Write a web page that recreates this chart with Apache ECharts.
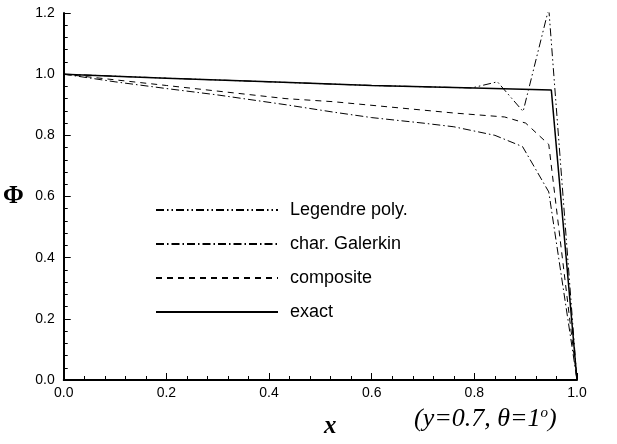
<!DOCTYPE html>
<html>
<head>
<meta charset="utf-8">
<script src="https://cdn.jsdelivr.net/npm/echarts@6/dist/echarts.min.js"></script>
<style>
  html, body { margin: 0; padding: 0; background: #fff; }
  #main { width: 617px; height: 444px; }
</style>
</head>
<body>
<div id="main"></div>
<script>
// 数据 (x, Φ) 读自原图
var legendreX = [0, 0.2, 0.4, 0.6, 0.795, 0.845, 0.895, 0.945, 1.0];
var legendreY = [1.0, 0.987, 0.975, 0.963, 0.955, 0.975, 0.878, 1.215, 0.0];

var galerkinX = [0, 0.1, 0.2, 0.3, 0.433, 0.525, 0.6, 0.7, 0.76, 0.84, 0.894, 0.945, 1.0];
var galerkinY = [1.0, 0.975, 0.953, 0.932, 0.9, 0.876, 0.858, 0.84, 0.828, 0.80, 0.763, 0.615, 0.0];

var compositeX = [0, 0.2, 0.433, 0.525, 0.76, 0.859, 0.9, 0.945, 1.0];
var compositeY = [1.0, 0.963, 0.92, 0.91, 0.873, 0.86, 0.84, 0.77, 0.0];

var exactX = [0, 0.2, 0.4, 0.6, 0.8, 0.95, 1.0];
var exactY = [1.0, 0.987, 0.975, 0.963, 0.955, 0.948, 0.0];

var seriesNames = ['Legendre poly.', 'char. Galerkin', 'composite', 'exact'];

function pairs(xs, ys) {
    return xs.map(function (x, i) { return [x, ys[i]]; });
}

var myChart = echarts.init(document.getElementById('main'));

var axisText = { color: '#000', fontFamily: 'Liberation Sans', fontSize: 14 };

var option = {
    backgroundColor: '#fff',
    animation: false,
    grid: { left: 63, right: 40, top: 13, bottom: 61 },
    legend: {
        data: seriesNames,
        orient: 'vertical',
        left: 150,
        top: 196,
        itemWidth: 122,
        itemHeight: 14,
        itemGap: 16,
        itemStyle: { opacity: 0 },
        textStyle: { color: '#000', fontFamily: 'Liberation Sans', fontSize: 18, padding: [0, 0, 0, 7] },
        selectedMode: false
    },
    xAxis: {
        type: 'value',
        min: 0,
        max: 1,
        interval: 0.2,
        name: 'x',
        nameLocation: 'middle',
        nameGap: 34,
        nameTextStyle: { color: '#000', fontFamily: 'Liberation Serif', fontSize: 25, fontStyle: 'italic', fontWeight: 'bold', padding: [0, 0, 0, 20] },
        axisLine: { lineStyle: { color: '#000', width: 2 } },
        axisTick: { inside: true, length: 7, lineStyle: { color: '#000' } },
        minorTick: { show: true, splitNumber: 5, length: 4, lineStyle: { color: '#000' } },
        axisLabel: Object.assign({ formatter: function (v) { return v.toFixed(1); }, margin: 6 }, axisText),
        splitLine: { show: false }
    },
    yAxis: {
        type: 'value',
        min: 0,
        max: 1.2,
        interval: 0.2,
        name: 'Φ',
        nameLocation: 'middle',
        nameRotate: 0,
        nameGap: 40,
        nameMoveOverlap: false,
        nameTextStyle: { color: '#000', fontFamily: 'Liberation Serif', fontSize: 25, fontWeight: 'bold', padding: [8, 0, 0, 0] },
        axisLine: { lineStyle: { color: '#000', width: 2 } },
        axisTick: { inside: true, length: 7, lineStyle: { color: '#000' } },
        minorTick: { show: true, splitNumber: 5, length: 4, lineStyle: { color: '#000' } },
        axisLabel: Object.assign({ formatter: function (v) { return v.toFixed(1); }, margin: 9 }, axisText),
        splitLine: { show: false }
    },
    graphic: [{
        type: 'text',
        left: 414,
        top: 406,
        style: {
            text: '{a|(y=0.7, θ=1}{s|o}{a|)}',
            rich: {
                a: { fontFamily: 'Liberation Serif', fontSize: 26, fontStyle: 'italic', fill: '#000' },
                s: { fontFamily: 'Liberation Serif', fontSize: 15, fontStyle: 'italic', fill: '#000', verticalAlign: 'top', padding: [0, 0, 12, 0] }
            }
        }
    }],
    series: [
        {
            name: seriesNames[0],
            type: 'line',
            data: pairs(legendreX, legendreY),
            symbol: 'none',
            color: '#000',
            lineStyle: { color: '#000', width: 1, type: [8, 3, 1.5, 3, 1.5, 3] }
        },
        {
            name: seriesNames[1],
            type: 'line',
            data: pairs(galerkinX, galerkinY),
            symbol: 'none',
            color: '#000',
            lineStyle: { color: '#000', width: 1, type: [8, 3, 1.5, 3] }
        },
        {
            name: seriesNames[2],
            type: 'line',
            data: pairs(compositeX, compositeY),
            symbol: 'none',
            color: '#000',
            lineStyle: { color: '#000', width: 1, type: [6, 5] }
        },
        {
            name: seriesNames[3],
            type: 'line',
            data: pairs(exactX, exactY),
            symbol: 'none',
            color: '#000',
            lineStyle: { color: '#000', width: 1.5, type: 'solid' }
        }
    ]
};

myChart.setOption(option);
</script>
</body>
</html>
